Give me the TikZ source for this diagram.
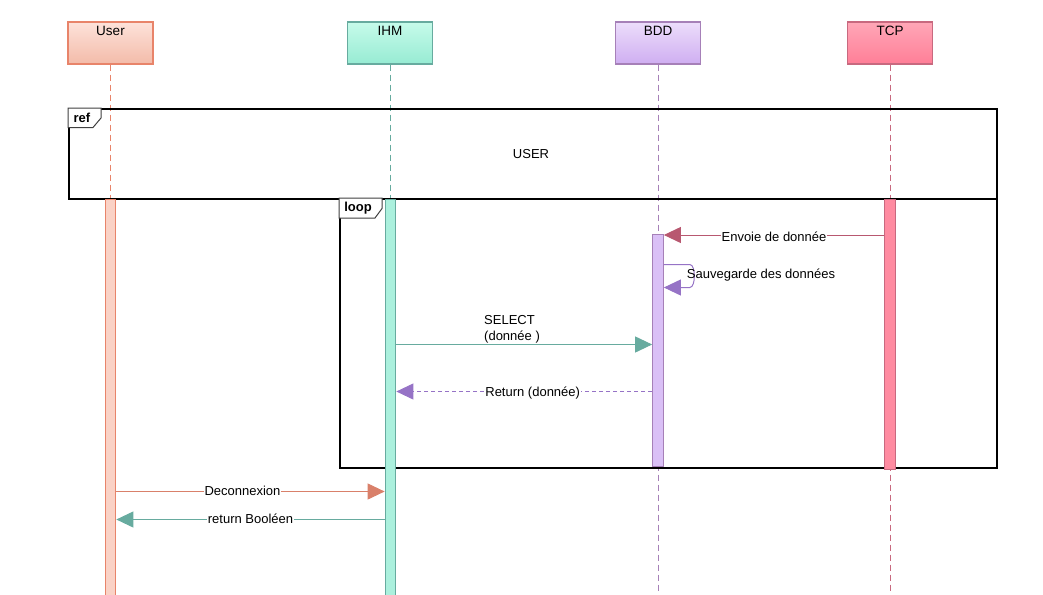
\documentclass[tikz,border=0pt]{standalone}
\usepackage{fontspec}
\setmainfont{Liberation Sans}
\usetikzlibrary{arrows.meta}
\definecolor{userD}{HTML}{E8846A}
\definecolor{userT}{HTML}{FDE2DA}
\definecolor{userB}{HTML}{F3BBA9}
\definecolor{userF}{HTML}{FAD2C6}
\definecolor{ihmD}{HTML}{67AB9F}
\definecolor{ihmT}{HTML}{C6FBEA}
\definecolor{ihmB}{HTML}{97EBD3}
\definecolor{ihmF}{HTML}{ABF0DD}
\definecolor{bddD}{HTML}{A680B8}
\definecolor{bddT}{HTML}{ECDDFB}
\definecolor{bddB}{HTML}{CFAEF1}
\definecolor{bddF}{HTML}{DAC0F6}
\definecolor{tcpD}{HTML}{C8697F}
\definecolor{tcpT}{HTML}{FFA7B7}
\definecolor{tcpB}{HTML}{FF7E97}
\definecolor{tcpF}{HTML}{FF8BA1}
\definecolor{envC}{HTML}{B85870}
\definecolor{sauvC}{HTML}{9673C6}
\definecolor{selC}{HTML}{67AB9F}
\definecolor{decC}{HTML}{D9806A}
\tikzset{
  head/.style={draw=#1D, line width=1.2pt, top color=#1T, bottom color=#1B,
    minimum width=85pt, minimum height=42pt, inner sep=0pt},
  headtxt/.style={anchor=north, font=\fontsize{13.5}{15}\selectfont, inner sep=0pt},
  life/.style={draw=#1D, line width=1pt, dash pattern=on 6pt off 4pt},
  bar/.style={draw=#1D, fill=#1F, line width=1.2pt, minimum width=10.5pt, anchor=north, inner sep=0pt},
  frame/.style={draw=black, line width=1.5pt, anchor=north west, inner sep=0pt},
  tab/.style={draw=black!75, line width=1pt, fill=white},
  tabtxt/.style={font=\fontsize{13}{15}\selectfont\bfseries, inner sep=0pt},
  msg/.style={draw=#1, line width=1pt, -{Triangle[length=17pt,width=16pt]}, #1},
  mlbl/.style={fill=white, font=\fontsize{13}{15}\selectfont, inner sep=1pt, text=black},
}
\begin{document}
\begin{tikzpicture}[x=1pt,y=-1pt]
\useasboundingbox (0,0) rectangle (1043,594);
\coordinate (bot) at (0,594);
% heads
\node[head=user] (user) at (110.5,43) {};
\node[head=ihm] (ihm) at (390,43) {};
\node[head=bdd] (bdd) at (658,43) {};
\node[head=tcp] (tcp) at (890,43) {};
\node[headtxt] (userT) at ([yshift=-4.5pt]user.north) {User};
\node[headtxt] (ihmT) at ([yshift=-4.5pt]ihm.north) {IHM};
\node[headtxt] (bddT) at ([yshift=-4.5pt]bdd.north) {BDD};
\node[headtxt] (tcpT) at ([yshift=-4.5pt]tcp.north) {TCP};
% lifelines
\draw[life=user] (user.south) -- (user.south |- bot);
\draw[life=ihm] (ihm.south) -- (ihm.south |- bot);
\draw[life=bdd] (bdd.south) -- (bdd.south |- bot);
\draw[life=tcp] (tcp.south) -- (tcp.south |- bot);
% frames
\node[frame, minimum width=928pt, minimum height=90pt] (ref) at (68,108) {};
\node[frame, minimum width=657pt, minimum height=269pt] (loop) at (339,198) {};
\draw[tab] (ref.north west) -- ++(33,0) -- ++(0,10) -- ++(-8,9.5) -- ++(-25,0) -- cycle;
\node[tabtxt] (refT) at (82,117.5) {ref};
\draw[tab] (loop.north west) -- ++(43,0) -- ++(0,10.5) -- ++(-7,9.5) -- ++(-36,0) -- cycle;
\node[tabtxt] (loopT) at (358,208.5) {loop};
\node[mlbl, fill=none] (userref) at (531,154) {USER};
% activation bars
\node[bar=user, minimum height=400pt] (ua) at (110.5,199) {};
\node[bar=ihm, minimum height=400pt] (ia) at (390.5,199) {};
\node[bar=bdd, minimum height=232pt] (ba) at (658,234) {};
\node[bar=tcp, minimum height=270pt] (ta) at (890,199) {};
% rows
\coordinate (r1) at (0,235);
\coordinate (r2a) at (0,264.5);
\coordinate (r2b) at (0,287.5);
\coordinate (r3) at (0,344.5);
\coordinate (r4) at (0,391.5);
\coordinate (r5) at (0,491.5);
\coordinate (r6) at (0,519.5);
% messages
\draw[msg=envC] (ta.west |- r1) -- node[mlbl, pos=0.5, yshift=-2pt] (m1) {Envoie de donnée} (ba.east |- r1);
\draw[msg=sauvC] (ba.east |- r2a) -- ++(26,0) .. controls +(6,0) and +(6,0) .. ([xshift=26pt]ba.east |- r2b) -- (ba.east |- r2b);
\node[mlbl, fill=none] (m2) at (761,275) {Sauvegarde des données};
\draw[msg=selC] (ia.east |- r3) -- (ba.west |- r3);
\node[mlbl, fill=none, anchor=south west, align=left, font=\fontsize{13}{16}\selectfont] (m3) at (483,344.5) {SELECT\\(donnée )};
\draw[msg=sauvC, dash pattern=on 4pt off 3pt] (ba.west |- r4) -- node[mlbl, pos=0.467, yshift=-2pt] (m4) {Return (donnée)} (ia.east |- r4);
\draw[msg=decC] (ua.east |- r5) -- node[mlbl, pos=0.47, yshift=1pt] (m5) {Deconnexion} (ia.west |- r5);
\draw[msg=selC] (ia.west |- r6) -- node[mlbl, pos=0.5, yshift=1pt] (m6) {return Booléen} (ua.east |- r6);
\end{tikzpicture}
\end{document}
